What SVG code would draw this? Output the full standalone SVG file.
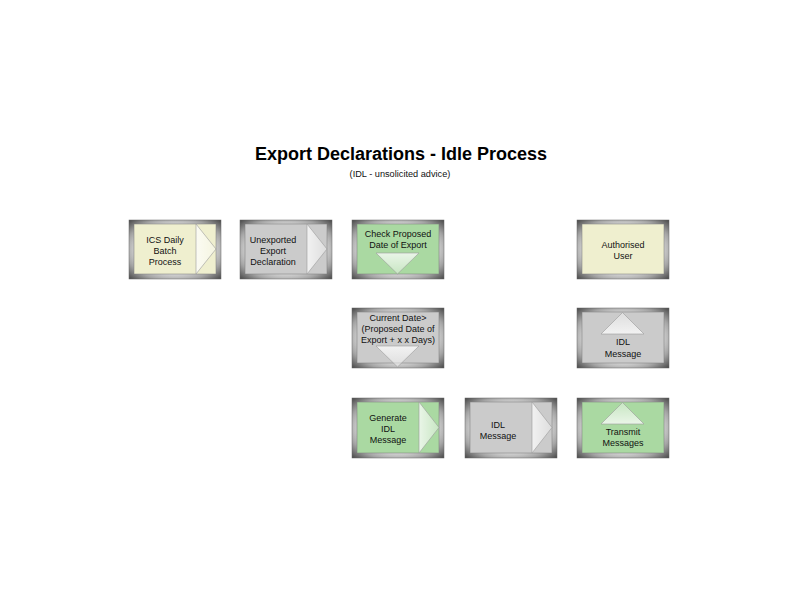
<svg xmlns="http://www.w3.org/2000/svg" width="800" height="600" viewBox="0 0 800 600">
<defs>
<radialGradient id="frameG" cx="0.5" cy="0.5" r="0.71">
<stop offset="0" stop-color="#ffffff"/>
<stop offset="0.6" stop-color="#d0d0d0"/>
<stop offset="0.76" stop-color="#a4a4a4"/>
<stop offset="1" stop-color="#454545"/>
</radialGradient>
<linearGradient id="arrR" x1="0" y1="0" x2="1" y2="0">
<stop offset="0" stop-color="#ffffff" stop-opacity="0.75"/>
<stop offset="1" stop-color="#ffffff" stop-opacity="0.35"/>
</linearGradient>
<linearGradient id="arrD" x1="0" y1="0" x2="0" y2="1">
<stop offset="0" stop-color="#ffffff" stop-opacity="0.75"/>
<stop offset="1" stop-color="#ffffff" stop-opacity="0.35"/>
</linearGradient>
<linearGradient id="arrU" x1="0" y1="1" x2="0" y2="0">
<stop offset="0" stop-color="#ffffff" stop-opacity="0.75"/>
<stop offset="1" stop-color="#ffffff" stop-opacity="0.35"/>
</linearGradient>
</defs>
<style>
.frame{fill:url(#frameG);stroke:#666;stroke-width:0.5}
.yel{fill:#efefcf;stroke:#777;stroke-width:0.5}
.grn{fill:#aad9a2;stroke:#777;stroke-width:0.5}
.gry{fill:#cbcbcb;stroke:#777;stroke-width:0.5}
.ar{fill:url(#arrR);stroke:#9a9a9a;stroke-width:0.6}
.ad{fill:url(#arrD);stroke:#9a9a9a;stroke-width:0.6}
.au{fill:url(#arrU);stroke:#9a9a9a;stroke-width:0.6}
.t{font-family:"Liberation Sans",Arial,sans-serif;font-size:9px;fill:#111;text-anchor:middle}
.title{font-family:"Liberation Sans",Arial,sans-serif;font-size:18px;font-weight:bold;fill:#000;text-anchor:middle}
.sub{font-family:"Liberation Sans",Arial,sans-serif;font-size:9.2px;fill:#111;text-anchor:middle}
</style>
<rect width="800" height="600" fill="#fff"/>
<text class="title" x="401" y="160">Export Declarations - Idle Process</text>
<text class="sub" x="400" y="177">(IDL - unsolicited advice)</text>
<g id="connectors"></g>

<g id="ics-daily-batch" transform="translate(129,220)">
<rect class="frame" x="0" y="0" width="92" height="59"/>
<rect class="yel" x="5" y="4" width="82" height="50"/>
<polygon class="ar" points="67,4 87,29 67,54"/>
<text class="t"><tspan x="36" y="23">ICS Daily</tspan><tspan x="36" y="34">Batch</tspan><tspan x="36" y="45">Process</tspan></text>
</g>

<g id="unexported-export" transform="translate(240,220)">
<rect class="frame" x="0" y="0" width="92" height="59"/>
<rect class="gry" x="5" y="4" width="82" height="50"/>
<polygon class="ar" points="67,4 87,29 67,54"/>
<text class="t"><tspan x="33" y="23">Unexported</tspan><tspan x="33" y="34">Export</tspan><tspan x="33" y="45">Declaration</tspan></text>
</g>

<g id="check-proposed-date" transform="translate(352,220)">
<rect class="frame" x="0" y="0" width="92" height="59"/>
<rect class="grn" x="5" y="4" width="82" height="50"/>
<polygon class="ad" points="24,33 67,33 45.5,54"/>
<text class="t"><tspan x="46" y="17">Check Proposed</tspan><tspan x="46" y="28">Date of Export</tspan></text>
</g>

<g id="authorised-user" transform="translate(577,220)">
<rect class="frame" x="0" y="0" width="92" height="59"/>
<rect class="yel" x="5" y="4" width="82" height="50"/>
<text class="t"><tspan x="46" y="28">Authorised</tspan><tspan x="46" y="39">User</tspan></text>
</g>

<g id="current-date-check" transform="translate(352,308)">
<rect class="frame" x="0" y="0" width="92" height="60"/>
<rect class="gry" x="5" y="4" width="82" height="51"/>
<polygon class="ad" points="24,38 67,38 45.5,59"/>
<text class="t"><tspan x="46" y="13">Current Date&gt;</tspan><tspan x="46" y="24">(Proposed Date of</tspan><tspan x="46" y="35">Export + x x Days)</tspan></text>
</g>

<g id="idl-message-received" transform="translate(577,308)">
<rect class="frame" x="0" y="0" width="92" height="60"/>
<rect class="gry" x="5" y="4" width="82" height="51"/>
<polygon class="au" points="24,26 67,26 45.5,4.5"/>
<text class="t"><tspan x="46" y="37">IDL</tspan><tspan x="46" y="49">Message</tspan></text>
</g>

<g id="generate-idl-message" transform="translate(352,398)">
<rect class="frame" x="0" y="0" width="92" height="60"/>
<rect class="grn" x="5" y="4" width="82" height="51"/>
<polygon class="ar" points="67,4 87,29.5 67,55"/>
<text class="t"><tspan x="36" y="23">Generate</tspan><tspan x="36" y="34">IDL</tspan><tspan x="36" y="45">Message</tspan></text>
</g>

<g id="idl-message" transform="translate(465,398)">
<rect class="frame" x="0" y="0" width="92" height="60"/>
<rect class="gry" x="5" y="4" width="82" height="51"/>
<polygon class="ar" points="67,4 87,29.5 67,55"/>
<text class="t"><tspan x="33" y="30">IDL</tspan><tspan x="33" y="41">Message</tspan></text>
</g>

<g id="transmit-messages" transform="translate(577,398)">
<rect class="frame" x="0" y="0" width="92" height="60"/>
<rect class="grn" x="5" y="4" width="82" height="51"/>
<polygon class="au" points="24,26 67,26 45.5,4.5"/>
<text class="t"><tspan x="46" y="37">Transmit</tspan><tspan x="46" y="48">Messages</tspan></text>
</g>
</svg>
